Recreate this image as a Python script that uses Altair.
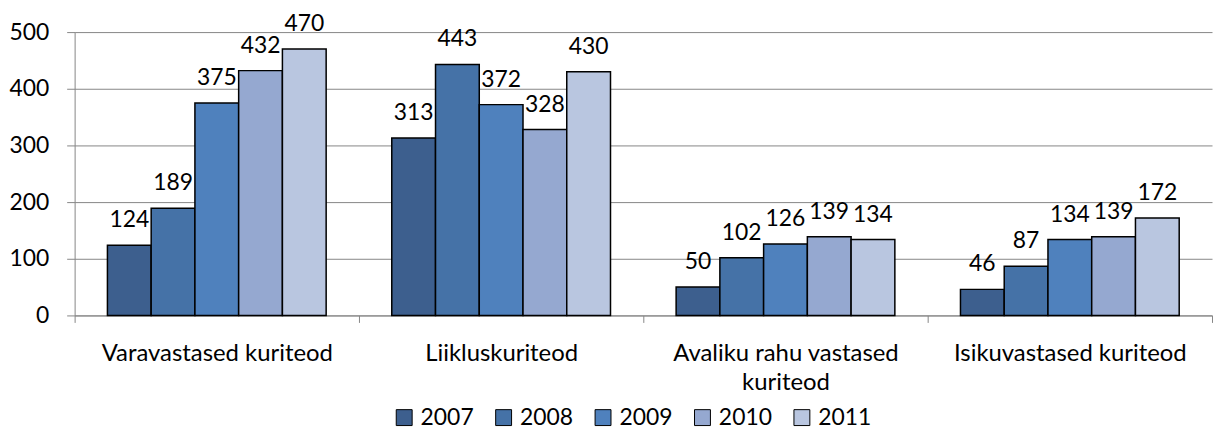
import altair as alt
import pandas as pd

categories = ["Varavastased kuriteod", "Liikluskuriteod",
              "Avaliku rahu vastased kuriteod", "Isikuvastased kuriteod"]
years = ["2007", "2008", "2009", "2010", "2011"]
v2007 = [124, 313, 50, 46]
v2008 = [189, 443, 102, 87]
v2009 = [375, 372, 126, 134]
v2010 = [432, 328, 139, 139]
v2011 = [470, 430, 134, 172]
colors = ["#3D5F8E", "#4572A7", "#4F81BD", "#95A8D0", "#B9C6E0"]
y_ticks = [0, 100, 200, 300, 400, 500]

series = [v2007, v2008, v2009, v2010, v2011]
rows = []
for yr, vals in zip(years, series):
    for c, v in zip(categories, vals):
        rows.append({"cat": c, "year": yr, "value": v})
df = pd.DataFrame(rows)

FONT = "Lato"
GRID = "#868686"

x_enc = alt.X("cat:N", sort=categories,
              scale=alt.Scale(paddingInner=0, paddingOuter=0),
              axis=alt.Axis(title=None, labelAngle=0, tickBand="extent",
                            domainColor=GRID, tickColor=GRID, tickSize=7,
                            labelFontSize=24, labelFont=FONT, labelColor="black",
                            labelPadding=19, labelLineHeight=29, labelLimit=1000,
                            labelExpr="datum.value == 'Avaliku rahu vastased kuriteod' ? ['Avaliku rahu vastased', 'kuriteod'] : datum.value"))
xo_enc = alt.XOffset("year:N", sort=years,
                     scale=alt.Scale(paddingInner=0, paddingOuter=0.75))
y_enc = alt.Y("value:Q", scale=alt.Scale(domain=[0, 500]),
              axis=alt.Axis(title=None, values=y_ticks, grid=True, gridColor=GRID,
                            domainColor=GRID, tickColor=GRID, tickSize=8,
                            labelFontSize=23, labelFont=FONT, labelColor="black",
                            labelPadding=18))

base = alt.Chart(df)

bars = base.mark_bar(stroke="black", strokeWidth=1.5).encode(
    x=x_enc, xOffset=xo_enc, y=y_enc,
    color=alt.Color("year:N", sort=years,
                    scale=alt.Scale(domain=years, range=colors),
                    legend=alt.Legend(title=None, orient="none", direction="horizontal",
                                      legendX=320, legendY=376,
                                      symbolType="square", symbolSize=256,
                                      symbolStrokeColor="black", symbolStrokeWidth=1,
                                      labelFontSize=23, labelFont=FONT,
                                      labelColor="black", labelOffset=5,
                                      columnPadding=18)),
)

labels = base.mark_text(fontSize=23, font=FONT, color="black",
                        baseline="alphabetic", dy=-18).encode(
    x=x_enc, xOffset=xo_enc, y=y_enc, text="value:Q")

chart = alt.layer(bars, labels).properties(
    width=1144, height=285,
    padding={"left": 67, "top": 23, "right": 2, "bottom": 114},
    autosize=alt.AutoSizeParams(type="none"),
).configure_view(stroke=None)

chart.save("out.html", embed_options={"renderer": "svg", "actions": False})
